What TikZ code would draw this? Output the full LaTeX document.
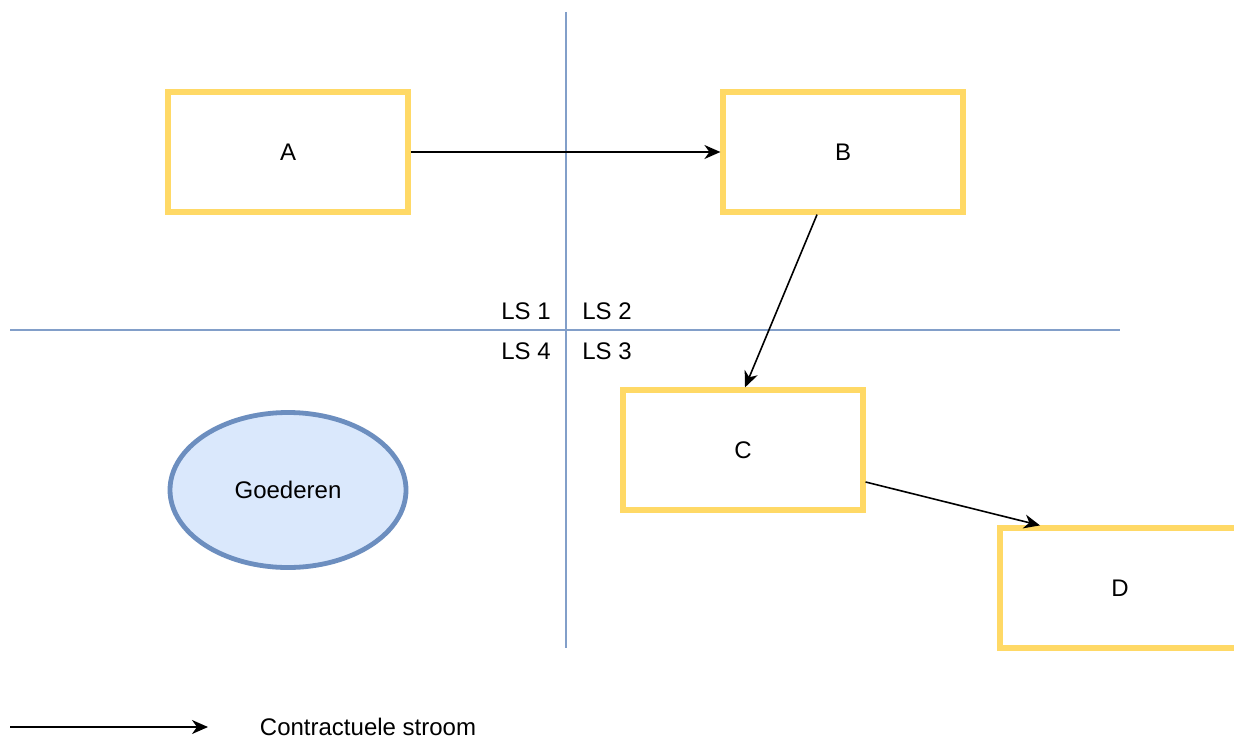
\documentclass[tikz,border=0pt]{standalone}
\usepackage{fontspec}
\setmainfont{Liberation Sans}
\usetikzlibrary{arrows.meta,shapes.geometric}
\definecolor{boxyellow}{HTML}{FFD966}
\definecolor{lineblue}{HTML}{6C8EBF}
\definecolor{fillblue}{HTML}{DAE8FC}
\begin{document}
\begin{tikzpicture}[x=0.5pt, y=-0.5pt, font=\fontsize{12pt}{14pt}\selectfont,
  party/.style={rectangle, draw=boxyellow, line width=2.6pt, fill=white,
    minimum width=120pt, minimum height=60pt},
  contract/.style={-{Stealth[length=8pt, width=7pt, inset=2.5pt]}, line width=0.8pt, black},
  divider/.style={draw=lineblue!85!white, line width=0.9pt}]
\useasboundingbox (0,0) rectangle (1234,738);

% === Dividers ===
\coordinate (Vtop) at (566,12);
\coordinate (Vbot) at (566,648);
\coordinate (Hleft) at (10,330);
\coordinate (Hright) at (1120,330);
\draw[divider] (Vtop) -- (Vbot);
\draw[divider] (Hleft) -- (Hright);

% === Zones ===
\node (LS-1) at (526,311) {LS 1};
\node (LS-2) at (607,311) {LS 2};
\node (LS-4) at (526,351) {LS 4};
\node (LS-3) at (607,351) {LS 3};

% === Parties ===
\node[party] (A) at (288,152) {A};
\node[party] (B) at (843,152) {B};
\node[party] (C) at (743,450) {C};
\node[party] (D) at (1120,588) {D};

% === Goods ===
\node[ellipse, draw=lineblue, fill=fillblue, line width=2.4pt,
  minimum width=118pt, minimum height=77.5pt, inner sep=0pt] (Goods) at (288,490) {Goederen};

% === Connections ===
\draw[contract] (A.east) -- (B.west);
\draw[contract] ([xshift=-13pt]B.south) -- ([xshift=1pt]C.north);
\draw[contract] ([yshift=-16pt]C.east) -- ([xshift=-40pt]D.north);

% === Legend ===
\coordinate (Lstart) at (10,727);
\coordinate (Lend) at (208,727);
\draw[contract] (Lstart) -- (Lend);
\node (Legend) at (368,727) {Contractuele stroom};
\end{tikzpicture}
\end{document}
